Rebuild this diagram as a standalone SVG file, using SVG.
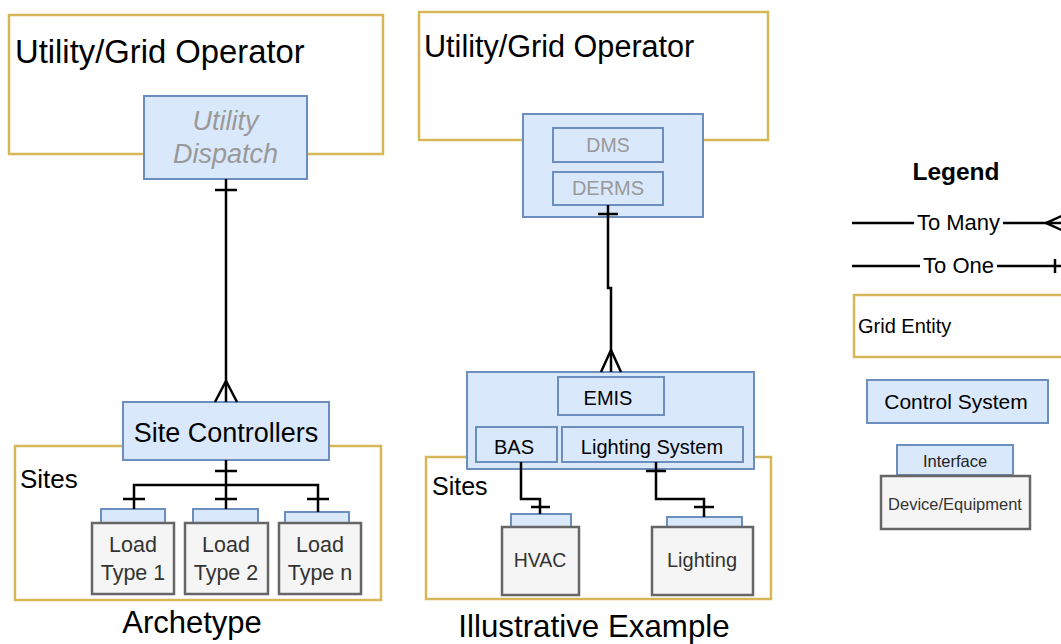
<svg xmlns="http://www.w3.org/2000/svg" width="1061" height="644" viewBox="0 0 1061 644">
<defs>
<style>
text{font-family:"Liberation Sans",Arial,Helvetica,sans-serif;}
.grid{fill:#ffffff;stroke:#d6b656;stroke-width:2.5;}
.ctrl{fill:#dae8fc;stroke:#6c8ebf;stroke-width:2;}
.dev{fill:#f5f5f5;stroke:#666666;stroke-width:2.5;}
.conn{fill:none;stroke:#000000;stroke-width:2.5;stroke-linejoin:miter;}
.lbl{fill:#000000;}
.gray{fill:#999999;}
.devt{fill:#333333;text-anchor:middle;}
.mid{text-anchor:middle;}
</style>
</defs>
<rect x="0" y="0" width="1061" height="644" fill="#ffffff"/>

<!-- Archetype panel -->
<g id="arch-grid">
<rect class="grid" x="9" y="15" width="374" height="139"/>
<text class="lbl" x="15" y="63" font-size="32.8">Utility/Grid Operator</text>
</g>
<g id="arch-sites">
<rect class="grid" x="15" y="446" width="366" height="154"/>
<text class="lbl" x="20" y="488" font-size="26">Sites</text>
</g>
<g id="utility-dispatch">
<rect class="ctrl" x="144" y="96" width="163" height="83"/>
<text class="gray mid" x="225.5" y="130" font-size="27" font-style="italic">Utility</text>
<text class="gray mid" x="225.5" y="163" font-size="27" font-style="italic">Dispatch</text>
</g>
<g id="site-controllers">
<rect class="ctrl" x="123" y="402" width="206" height="58"/>
<text class="lbl mid" x="226" y="442" font-size="27">Site Controllers</text>
</g>
<g id="load1">
<rect class="ctrl" x="101" y="509" width="64" height="14"/>
<rect class="dev" x="92" y="523" width="82" height="71"/>
<text class="devt" x="133" y="552" font-size="21.5">Load</text>
<text class="devt" x="133" y="580" font-size="21.5">Type 1</text>
</g>
<g id="load2">
<rect class="ctrl" x="193" y="509" width="65" height="14"/>
<rect class="dev" x="185" y="523" width="83" height="71"/>
<text class="devt" x="226" y="552" font-size="21.5">Load</text>
<text class="devt" x="226" y="580" font-size="21.5">Type 2</text>
</g>
<g id="loadn">
<rect class="ctrl" x="285" y="512" width="64" height="11"/>
<rect class="dev" x="279" y="523" width="82" height="71"/>
<text class="devt" x="320" y="552" font-size="21.5">Load</text>
<text class="devt" x="320" y="580" font-size="21.5">Type n</text>
</g>
<text id="archetype-title" class="lbl mid" x="192" y="633" font-size="31">Archetype</text>

<!-- Illustrative example panel -->
<g id="ex-grid">
<rect class="grid" x="419" y="12" width="349" height="128"/>
<text class="lbl" x="424" y="57" font-size="30.6">Utility/Grid Operator</text>
</g>
<g id="ex-sites">
<rect class="grid" x="426" y="457" width="345" height="142"/>
<text class="lbl" x="432" y="495" font-size="25">Sites</text>
</g>
<g id="utility-systems">
<rect class="ctrl" x="523" y="114" width="180" height="103"/>
<rect class="ctrl" x="553" y="128" width="110" height="34"/>
<text class="gray mid" x="608" y="152" font-size="19.5">DMS</text>
<rect class="ctrl" x="553" y="172" width="110" height="33"/>
<text class="gray mid" x="608" y="195" font-size="20">DERMS</text>
</g>
<g id="site-systems">
<rect class="ctrl" x="467" y="372" width="287" height="97"/>
<rect class="ctrl" x="558" y="377" width="106" height="38"/>
<text class="lbl mid" x="608" y="405" font-size="20">EMIS</text>
<rect class="ctrl" x="476" y="427" width="81" height="35"/>
<text class="lbl mid" x="514" y="454" font-size="20">BAS</text>
<rect class="ctrl" x="562" y="427" width="181" height="35"/>
<text class="lbl mid" x="652" y="454" font-size="20">Lighting System</text>
</g>
<g id="hvac">
<rect class="ctrl" x="511" y="514" width="60" height="13"/>
<rect class="dev" x="502" y="527" width="77" height="68"/>
<text class="devt" x="540" y="567" font-size="19.5">HVAC</text>
</g>
<g id="lighting">
<rect class="ctrl" x="667" y="517" width="75" height="10"/>
<rect class="dev" x="652" y="527" width="101" height="68"/>
<text class="devt" x="702" y="567" font-size="20">Lighting</text>
</g>
<text id="example-title" class="lbl mid" x="594" y="637" font-size="31.3">Illustrative Example</text>

<!-- Connectors -->
<g id="connectors">
<!-- Utility Dispatch to Site Controllers -->
<path class="conn" d="M226 179 V402"/>
<path class="conn" d="M215 190 H237"/>
<path class="conn" d="M215 402 L226 381 L237 402"/>
<!-- Site Controllers to loads -->
<path class="conn" d="M226 460 V509"/>
<path class="conn" d="M215 471 H237"/>
<path class="conn" d="M134 509 V485 H318 V512"/>
<path class="conn" d="M123 499 H145 M215 499 H237 M307 499 H329"/>
<!-- DERMS to EMIS -->
<path class="conn" d="M608 205 V288 H611 V372"/>
<path class="conn" d="M598 214 H618"/>
<path class="conn" d="M601 372 L611 350 L621 372"/>
<!-- BAS to HVAC -->
<path class="conn" d="M521 462 V499 H540 V514"/>
<path class="conn" d="M531 507 H550"/>
<!-- Lighting System to Lighting -->
<path class="conn" d="M656 462 V499 H704 V517"/>
<path class="conn" d="M646 471 H666"/>
<path class="conn" d="M694 507 H714"/>
</g>

<!-- Legend -->
<g id="legend">
<text class="lbl mid" x="956" y="180" font-size="24.5" font-weight="bold">Legend</text>
<path class="conn" d="M852 223 H914 M1003 223 H1061" stroke-width="2"/>
<path class="conn" d="M1066 214 L1046 223 L1066 232" stroke-width="2"/>
<text class="lbl mid" x="958.5" y="230" font-size="22">To Many</text>
<path class="conn" d="M852 266 H920 M997 266 H1061" stroke-width="2"/>
<path class="conn" d="M1055 259 V273" stroke-width="2"/>
<text class="lbl mid" x="958.5" y="273" font-size="22">To One</text>
</g>
<g id="legend-grid-entity">
<rect class="grid" x="854" y="295" width="220" height="62"/>
<text class="lbl" x="858" y="333" font-size="20">Grid Entity</text>
</g>
<g id="legend-control-system">
<rect class="ctrl" x="867" y="380" width="181" height="43"/>
<text class="lbl mid" x="956" y="409" font-size="21">Control System</text>
</g>
<g id="legend-device">
<rect class="ctrl" x="897" y="445" width="116" height="30"/>
<text class="mid" x="955" y="467" font-size="16.5" fill="#222222">Interface</text>
<rect class="dev" x="881" y="476" width="149" height="53"/>
<text class="devt" x="955" y="510" font-size="16.5">Device/Equipment</text>
</g>
</svg>
